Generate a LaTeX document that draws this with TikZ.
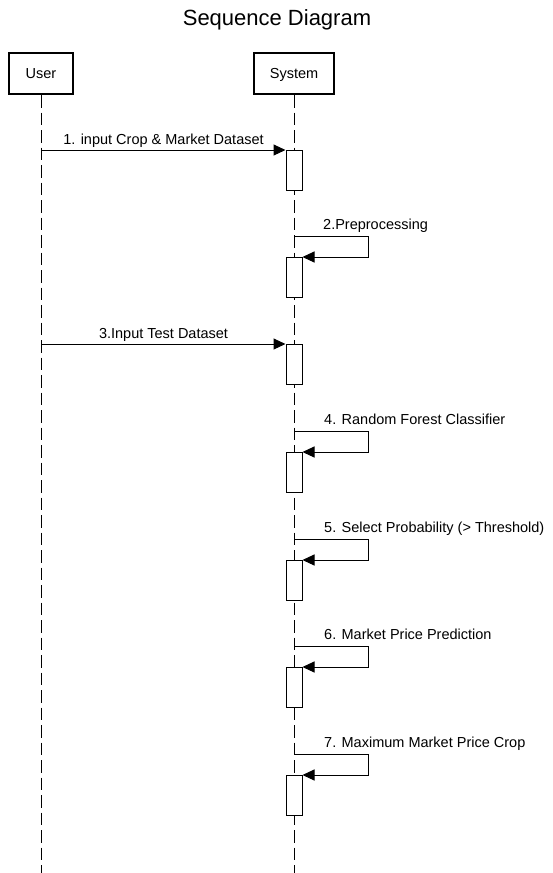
\documentclass[tikz,border=0pt]{standalone}
\usepackage{fontspec}
\setmainfont{Liberation Sans}
\usetikzlibrary{arrows.meta}
\begin{document}
\begin{tikzpicture}[x=1pt,y=-1pt]
\tikzstyle{actor} = [draw, line width=2pt, minimum height=41pt, inner sep=0pt, text height=10.5pt, text depth=0pt, font=\fontsize{14.5}{17}\selectfont]
\tikzstyle{lifeline} = [draw, line width=1pt, dash pattern=on 12.5pt off 5pt]
\tikzstyle{activation} = [draw, fill=white, line width=1pt, minimum width=16pt, minimum height=40pt, inner sep=0pt, anchor=north]
\tikzstyle{message} = [draw, line width=1pt, -{Triangle[length=12pt,width=11pt]}]
\tikzstyle{msglabel} = [inner sep=0pt, anchor=base, font=\fontsize{14.5}{17}\selectfont]
\tikzstyle{selflabel} = [inner sep=0pt, anchor=base west, font=\fontsize{14.5}{17}\selectfont]
\useasboundingbox (0,0) rectangle (553,873);
\node[inner sep=0pt, anchor=base, font=\fontsize{22}{26}\selectfont] (title) at (277,25) {Sequence Diagram};
\node[actor, minimum width=64pt] (a_user) at (41,73.5) {User};
\node[actor, minimum width=80pt] (a_system) at (294,73.5) {System};
\coordinate (e_user) at (41,873);
\coordinate (e_system) at (294,873);
\path[lifeline] (a_user) -- (e_user);
\path[lifeline] (a_system) -- (e_system);
\node[activation] (act_1) at (294,150) {};
\node[activation] (act_2) at (294,257) {};
\node[activation] (act_3) at (294,344) {};
\node[activation] (act_4) at (294,452) {};
\node[activation] (act_5) at (294,560) {};
\node[activation] (act_6) at (294,667) {};
\node[activation] (act_7) at (294,775) {};
\coordinate (c_1) at (41,150);
\coordinate (c_2) at (294,236);
\coordinate (c_3) at (41,344);
\coordinate (c_4) at (294,431);
\coordinate (c_5) at (294,539);
\coordinate (c_6) at (294,646);
\coordinate (c_7) at (294,754);
\path[message] (c_1) -- (act_1.north west);
\node[msglabel] (l_1) at (163.5,144) {1. input Crop \& Market Dataset};
\path[message] (c_2) -- ++(74,0) |- (act_2.north east);
\node[selflabel] (l_2) at (323,229) {2.Preprocessing};
\path[message] (c_3) -- (act_3.north west);
\node[msglabel] (l_3) at (163.5,338) {3.Input Test Dataset};
\path[message] (c_4) -- ++(74,0) |- (act_4.north east);
\node[selflabel] (l_4) at (324,424) {4. Random Forest Classifier};
\path[message] (c_5) -- ++(74,0) |- (act_5.north east);
\node[selflabel] (l_5) at (324,532) {5. Select Probability (> Threshold)};
\path[message] (c_6) -- ++(74,0) |- (act_6.north east);
\node[selflabel] (l_6) at (324,639) {6. Market Price Prediction};
\path[message] (c_7) -- ++(74,0) |- (act_7.north east);
\node[selflabel] (l_7) at (324,747) {7. Maximum Market Price Crop};
\end{tikzpicture}
\end{document}
